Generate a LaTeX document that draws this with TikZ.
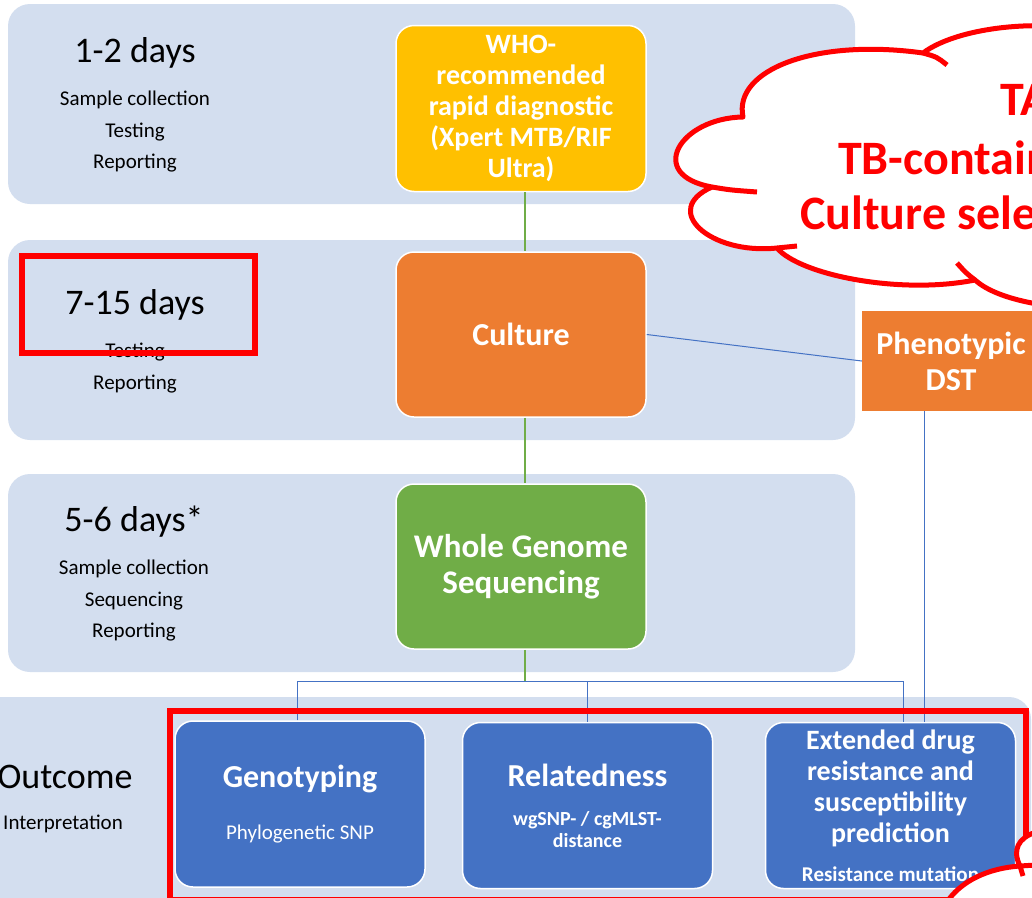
\documentclass[tikz,border=0pt]{standalone}
\usepackage{fontspec}
\setmainfont{Carlito}
\definecolor{bandblue}{HTML}{D3DEEF}
\definecolor{whogold}{HTML}{FFC000}
\definecolor{cultorange}{HTML}{ED7D31}
\definecolor{seqgreen}{HTML}{70AD47}
\definecolor{outblue}{HTML}{4472C4}
\definecolor{markred}{HTML}{FF0000}

\tikzset{
  band/.style={fill=bandblue, rounded corners=22pt},
  stage/.style={rectangle, rounded corners=18pt, draw=white, line width=1.5pt, text=white, align=center, minimum width=250pt, minimum height=166pt, inner sep=2pt},
  dayhead/.style={font=\fontsize{36}{40}\selectfont},
  daylist/.style={align=center, font=\fontsize{21}{31.5}\selectfont},
  flow/.style={seqgreen, line width=2pt},
  link/.style={outblue, line width=1pt},
  marker/.style={markred, line width=6pt},
  callout/.style={draw=markred, fill=white, line width=5pt, line join=round},
  puffline/.style={markred, line width=5pt},
  callouttext/.style={text=markred, inner sep=0pt, anchor=west, font=\bfseries\fontsize{48}{52}\selectfont},
}

\begin{document}
\begin{tikzpicture}[x=1pt, y=-1pt]
\useasboundingbox (0,0) rectangle (1032,897);
\clip (0,0) rectangle (1032,897);

% bands
\fill[band] (8,4) rectangle (855,204);
\fill[band] (8,240) rectangle (855,440);
\fill[band] (8,474) rectangle (855,672);
\fill[band] (-30,697) rectangle (1031,940);

% time labels
\node[dayhead] (d1) at (135,53) {1-2 days};
\node[daylist] (l1) at (135,132) {Sample collection\\Testing\\Reporting};
\node[dayhead] (d2) at (135,305) {7-15 days};
\node[daylist] (l2) at (135,368) {Testing\\Reporting};
\node[dayhead] (d3) at (134,522) {5-6 days*};
\node[daylist] (l3) at (134,601) {Sample collection\\Sequencing\\Reporting};
\node[dayhead] (d4) at (65,777) {Outcome};
\node[daylist] (l4) at (63,824) {Interpretation};

% stages
\node[stage, fill=whogold, font=\bfseries\fontsize{28}{31}\selectfont] (WHO) at (521,108.5) {WHO-\\recommended\\rapid diagnostic\\(Xpert MTB/RIF\\Ultra)};
\node[stage, fill=cultorange, minimum height=165pt, font=\bfseries\fontsize{32}{36}\selectfont] (Cul) at (521,334.5) {Culture};
\node[stage, fill=seqgreen, minimum height=165pt, font=\bfseries\fontsize{33}{36}\selectfont] (WGS) at (521,566.5) {Whole Genome\\Sequencing};
\node[fill=cultorange, text=white, align=center, minimum width=178pt, minimum height=100pt, font=\bfseries\fontsize{32}{36}\selectfont] (DST) at (951,361) {Phenotypic\\DST};

% outcomes
\node[stage, fill=outblue, font=\fontsize{21}{24}\selectfont] (Geno) at (300,804) {{\bfseries\fontsize{32}{36}\selectfont Genotyping}\\[28pt]Phylogenetic SNP};
\node[stage, fill=outblue, font=\bfseries\fontsize{20}{22}\selectfont] (Rel) at (587.5,805.5) {{\fontsize{32}{36}\selectfont Relatedness}\\[17pt]wgSNP- / cgMLST-\\distance};
\node[stage, fill=outblue, font=\bfseries\fontsize{28}{31}\selectfont] (Ext) at (890.5,805.5) {Extended drug\\resistance and\\susceptibility\\prediction\\[8pt]{\fontsize{21}{22}\selectfont Resistance mutation}};

% connectors
\coordinate (fork) at (525,681);
\draw[flow] ([xshift=4pt]WHO.south) -- ([xshift=4pt]Cul.north);
\draw[flow] ([xshift=4pt]Cul.south) -- ([xshift=4pt]WGS.north);
\draw[flow] ([xshift=4pt]WGS.south) -- (fork);
\draw[link] ([xshift=-3pt]Geno.north) |- (fork) -| ([xshift=12.5pt]Ext.north);
\draw[link] (Rel.north) -- (Rel.north |- fork);
\draw[link] (Cul.east) -- (DST.west);
\draw[link] ([xshift=-27pt]DST.south) -- ([xshift=-27pt]DST.south |- Ext.north);

% red marks
\draw[marker] (22,256) rectangle (255,353);
\draw[marker] (169.5,711) rectangle (1026,900);

% top cloud
\draw[callout] (743,117) .. controls (733,70) and (815,38) .. (923,53)
  .. controls (960,25) and (1060,15) .. (1120,40) -- (1250,40) -- (1250,312)
  -- (1100,310) .. controls (1040,308) and (995,298) .. (975,280)
  .. controls (900,295) and (800,275) .. (777,248)
  .. controls (710,255) and (660,210) .. (712,187)
  .. controls (645,175) and (680,118) .. cycle;
\draw[puffline] (712,187) .. controls (730,190) .. (757,192);
\draw[puffline] (923,53) .. controls (937,57) .. (947,65);
\draw[puffline] (777,248) -- (797,246);
\draw[puffline] (975,280) .. controls (966,273) .. (957,263);
\node[callouttext] (c1) at (1000,100) {TA};
\node[callouttext] (c2) at (838,158) {TB-contain};
\node[callouttext] (c3) at (800,213) {Culture sele};

% bottom cloud
\draw[callout] (945,905) .. controls (960,880) and (990,868) .. (1020,866)
  .. controls (1012,850) and (1018,838) .. (1036,832) -- (1040,905) -- cycle;
\draw[puffline] (1020,866) -- (1036,865);
\draw[puffline] (1020,866) .. controls (1021,871) .. (1023,876);
\end{tikzpicture}
\end{document}
